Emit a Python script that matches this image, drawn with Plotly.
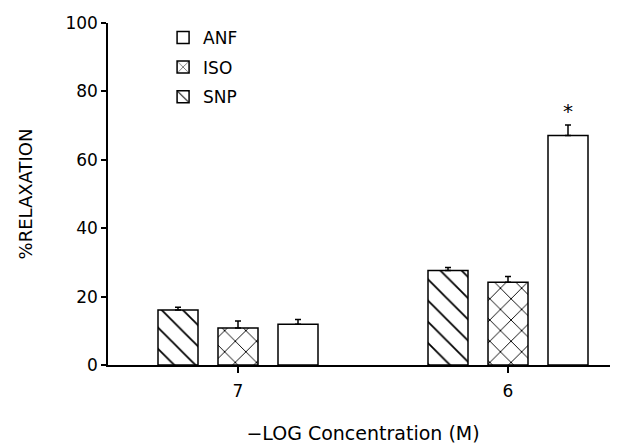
import plotly.graph_objects as go

concentrations = ["7", "6"]
series_names = ["SNP", "ISO", "ANF"]
legend_order = ["ANF", "ISO", "SNP"]
snp_values = [16.1, 27.6]
snp_errors = [0.8, 0.9]
iso_values = [10.8, 24.2]
iso_errors = [2.1, 1.7]
anf_values = [11.9, 67.1]
anf_errors = [1.4, 3.1]
significance_label = "*"

patterns = {"SNP": "\\", "ISO": "x", "ANF": ""}
values = {"SNP": snp_values, "ISO": iso_values, "ANF": anf_values}
errors = {"SNP": snp_errors, "ISO": iso_errors, "ANF": anf_errors}

FONT = "DejaVu Sans"
fig = go.Figure()
for name in series_names:
    fig.add_trace(go.Bar(
        name=name,
        x=concentrations,
        y=values[name],
        marker=dict(
            color="white",
            line=dict(color="black", width=1.5),
            pattern=dict(shape=patterns[name], fgcolor="black", bgcolor="white",
                         fgopacity=1, size=15, solidity=0.12, fillmode="overlay"),
        ),
        error_y=dict(type="data", array=errors[name], arrayminus=[0, 0],
                     symmetric=False, color="black", thickness=1.5, width=3),
        legendgroup=name,
        legendrank=legend_order.index(name) + 1,
    ))

bargap = 1 / 3
bargroupgap = 1 / 3
slot = (1 - bargap) / len(series_names)
anf_index = series_names.index("ANF")
anf_offset = -0.5 * (1 - bargap) + slot * (anf_index + 0.5)

fig.add_annotation(
    x=1 + anf_offset, y=anf_values[1] + anf_errors[1], xref="x", yref="y",
    text=significance_label, showarrow=False, yanchor="bottom", yshift=0,
    font=dict(family=FONT, size=20, color="black"),
)

# the page body adds an 8px offset, so the figure is sized to the visible window
fig.update_layout(
    width=610, height=436,
    margin=dict(l=100, r=0, t=15, b=78.5),
    paper_bgcolor="white", plot_bgcolor="white",
    barmode="group", bargap=bargap, bargroupgap=bargroupgap,
    font=dict(family=FONT, size=17, color="black"),
    showlegend=True,
    legend=dict(x=0.108, y=1.009, xanchor="left", yanchor="top",
                traceorder="grouped", tracegroupgap=4.5,
                font=dict(family=FONT, size=17), bgcolor="rgba(0,0,0,0)"),
    xaxis=dict(
        type="category", categoryorder="array", categoryarray=concentrations,
        range=[-0.4815, 1.4074], automargin=False,
        showline=True, linecolor="black", linewidth=1.5,
        ticks="outside", ticklen=6, tickwidth=1.5, tickcolor="black",
        ticklabelstandoff=4,
        showgrid=False, zeroline=False,
        title=dict(text="\u2212LOG Concentration (M)", standoff=28,
                   font=dict(family=FONT, size=19)),
    ),
    yaxis=dict(
        range=[0, 100], dtick=20, automargin=False,
        showline=True, linecolor="black", linewidth=1.5,
        ticks="outside", ticklen=5, tickwidth=1.5, tickcolor="black",
        showgrid=False, zeroline=False,
        title=dict(text="%RELAXATION", standoff=28,
                   font=dict(family=FONT, size=18)),
    ),
)

fig.write_html("out.html")
